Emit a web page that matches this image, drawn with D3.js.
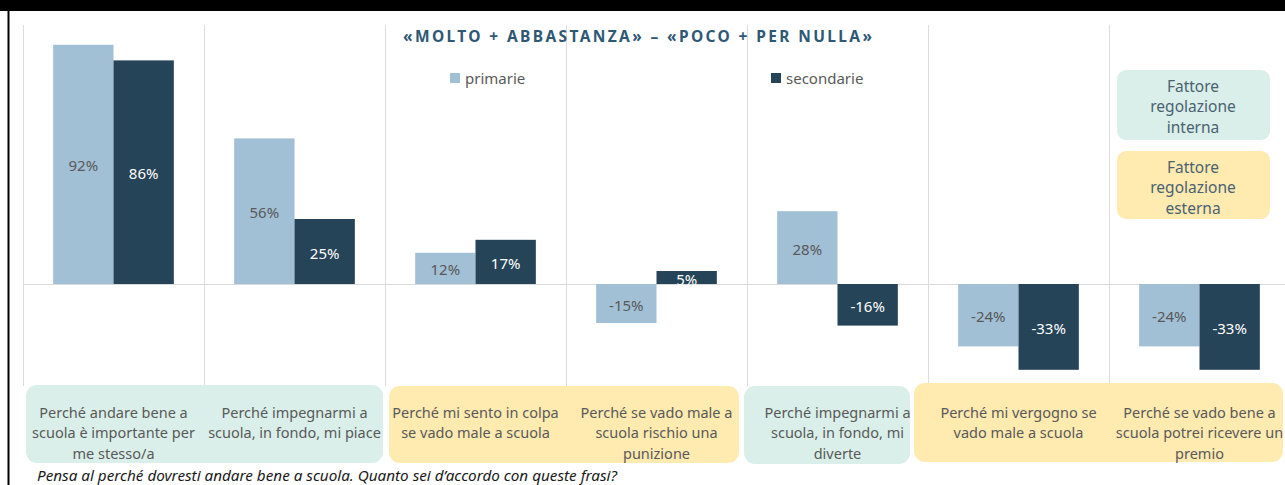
<!DOCTYPE html>
<html>
<head>
<meta charset="utf-8">
<script src="https://cdn.jsdelivr.net/npm/d3@7"></script>
<style>
  body { margin: 0; background: #fff; }
  svg { display: block; font-family: "Noto Sans", "Open Sans", sans-serif; }
</style>
</head>
<body>
<div id="chart"></div>
<script>
const categories = [
  "Perché andare bene a scuola è importante per me stesso/a",
  "Perché impegnarmi a scuola, in fondo, mi piace",
  "Perché mi sento in colpa se vado male a scuola",
  "Perché se vado male a scuola rischio una punizione",
  "Perché impegnarmi a scuola, in fondo, mi diverte",
  "Perché mi vergogno se vado male a scuola",
  "Perché se vado bene a scuola potrei ricevere un premio"
];
const categoryLines = [
  ["Perché andare bene a", "scuola è importante per", "me stesso/a"],
  ["Perché impegnarmi a", "scuola, in fondo, mi piace"],
  ["Perché mi sento in colpa", "se vado male a scuola"],
  ["Perché se vado male a", "scuola rischio una", "punizione"],
  ["Perché impegnarmi a", "scuola, in fondo, mi", "diverte"],
  ["Perché mi vergogno se", "vado male a scuola"],
  ["Perché se vado bene a", "scuola potrei ricevere un", "premio"]
];
const series = ["primarie", "secondarie"];
const primarie = [92, 56, 12, -15, 28, -24, -24];
const secondarie = [86, 25, 17, 5, -16, -33, -33];
const factorType = ["interna", "interna", "esterna", "esterna", "interna", "esterna", "esterna"];
const factorLabels = {
  interna: ["Fattore", "regolazione", "interna"],
  esterna: ["Fattore", "regolazione", "esterna"]
};
const title = "«MOLTO + ABBASTANZA» – «POCO + PER NULLA»";
const footnote = "Pensa al perché dovresti andare bene a scuola. Quanto sei d’accordo con queste frasi?";

const width = 1285, height = 485;
const colors = { primarie: "#a1bfd5", secondarie: "#264458" };
const boxFill = { interna: "#daefe9", esterna: "#ffeab0" };

const svg = d3.select("#chart").append("svg")
  .attr("width", width)
  .attr("height", height);

// frame
svg.append("rect").attr("x", 0).attr("y", 0).attr("width", width).attr("height", 11).attr("fill", "#000");
svg.append("rect").attr("x", 7.5).attr("y", 10).attr("width", 2).attr("height", height).attr("fill", "#000");

const x = d3.scaleBand()
  .domain(categories)
  .range([23, 23 + 181 * categories.length]);

const x1 = d3.scaleBand()
  .domain(series)
  .range([0, x.bandwidth()])
  .paddingOuter(0.5);

const y = d3.scaleLinear()
  .domain([-40, 100])
  .range([388, 24]);

// vertical gridlines between categories
svg.append("g").selectAll("line")
  .data(categories)
  .enter().append("line")
  .attr("x1", d => x(d) + 0.5)
  .attr("x2", d => x(d) + 0.5)
  .attr("y1", y(100) + 1)
  .attr("y2", y(-40) - 2)
  .attr("stroke", "#dcdcdc");

// zero line
svg.append("line")
  .attr("x1", 23).attr("x2", width)
  .attr("y1", Math.round(y(0)) + 0.5).attr("y2", Math.round(y(0)) + 0.5)
  .attr("stroke", "#d9d9d9");

const data = categories.map((c, i) => ({ cat: c, values: [
  { key: "primarie", value: primarie[i] },
  { key: "secondarie", value: secondarie[i] }
]}));

const groups = svg.append("g").selectAll("g")
  .data(data)
  .enter().append("g")
  .attr("transform", d => `translate(${x(d.cat)},0)`);

groups.selectAll("rect")
  .data(d => d.values)
  .enter().append("rect")
  .attr("x", d => x1(d.key))
  .attr("width", x1.bandwidth())
  .attr("y", d => y(Math.max(0, d.value)))
  .attr("height", d => Math.abs(y(d.value) - y(0)))
  .attr("fill", d => colors[d.key]);

groups.selectAll("text")
  .data(d => d.values)
  .enter().append("text")
  .attr("x", d => x1(d.key) + x1.bandwidth() / 2)
  .attr("y", d => (y(d.value) + y(0)) / 2 + 1)
  .attr("text-anchor", "middle")
  .attr("dominant-baseline", "central")
  .attr("font-size", 15)
  .attr("fill", d => d.key === "primarie" ? "#595959" : "#fff")
  .text(d => d.value + "%");

// title
svg.append("text")
  .attr("x", 403)
  .attr("y", 36)
  .attr("dominant-baseline", "central")
  .attr("font-size", 15.5)
  .attr("font-weight", "bold")
  .attr("textLength", 469)
  .attr("lengthAdjust", "spacing")
  .attr("fill", "#2f5875")
  .text(title);

// legend
const legendX = [450, 771];
const legend = svg.append("g").selectAll("g")
  .data(series)
  .enter().append("g")
  .attr("transform", (d, i) => `translate(${legendX[i]},73)`);
legend.append("rect").attr("width", 10).attr("height", 10).attr("fill", d => colors[d]);
legend.append("text")
  .attr("x", 15).attr("y", 5)
  .attr("dominant-baseline", "central")
  .attr("font-size", 15)
  .attr("fill", "#595959")
  .text(d => d);

// category background boxes
const boxGroups = [];
factorType.forEach((t, i) => {
  const last = boxGroups[boxGroups.length - 1];
  if (last && last.type === t) last.to = i;
  else boxGroups.push({ type: t, from: i, to: i });
});
const boxNudge = [[3, -2, 385, 463], [4, -8, 386, 463], [-3, -18, 386, 464], [-14, -7, 383, 462]];
svg.append("g").selectAll("rect")
  .data(boxGroups)
  .enter().append("rect")
  .attr("x", (d, i) => x(categories[d.from]) + boxNudge[i][0])
  .attr("width", (d, i) => x(categories[d.to]) + x.bandwidth() + boxNudge[i][1] - x(categories[d.from]) - boxNudge[i][0])
  .attr("y", (d, i) => boxNudge[i][2])
  .attr("height", (d, i) => boxNudge[i][3] - boxNudge[i][2])
  .attr("rx", 11)
  .attr("fill", d => boxFill[d.type]);

// category labels
const catText = svg.append("g").selectAll("text")
  .data(categories)
  .enter().append("text")
  .attr("text-anchor", "middle")
  .attr("font-size", 14.5)
  .attr("fill", "#595959");
catText.selectAll("tspan")
  .data((d, i) => categoryLines[i].map(l => ({ l, c: d })))
  .enter().append("tspan")
  .attr("x", d => x(d.c) + x.bandwidth() / 2)
  .attr("y", (d, j) => 412 + j * 20.3)
  .attr("dominant-baseline", "central")
  .text(d => d.l);

// factor legend boxes
const factorBoxes = [
  { type: "interna", y0: 70, y1: 140 },
  { type: "esterna", y0: 151, y1: 219 }
];
const fb = svg.append("g").selectAll("g")
  .data(factorBoxes)
  .enter().append("g");
fb.append("rect")
  .attr("x", 1117).attr("width", 153)
  .attr("y", d => d.y0).attr("height", d => d.y1 - d.y0)
  .attr("rx", 9)
  .attr("fill", d => boxFill[d.type]);
fb.append("text")
  .attr("text-anchor", "middle")
  .attr("font-size", 15.5)
  .attr("fill", "#4a6272")
  .selectAll("tspan")
  .data(d => factorLabels[d.type].map(l => ({ l, y0: d.y0 })))
  .enter().append("tspan")
  .attr("x", 1193)
  .attr("y", (d, j) => d.y0 + 16 + j * 20.3)
  .attr("dominant-baseline", "central")
  .text(d => d.l);

// footnote
svg.append("text")
  .attr("x", 37).attr("y", 481)
  .attr("font-size", 14)
  .attr("font-style", "italic")
  .attr("textLength", 580)
  .attr("lengthAdjust", "spacingAndGlyphs")
  .attr("fill", "#1a1a1a")
  .text(footnote);
</script>
</body>
</html>
